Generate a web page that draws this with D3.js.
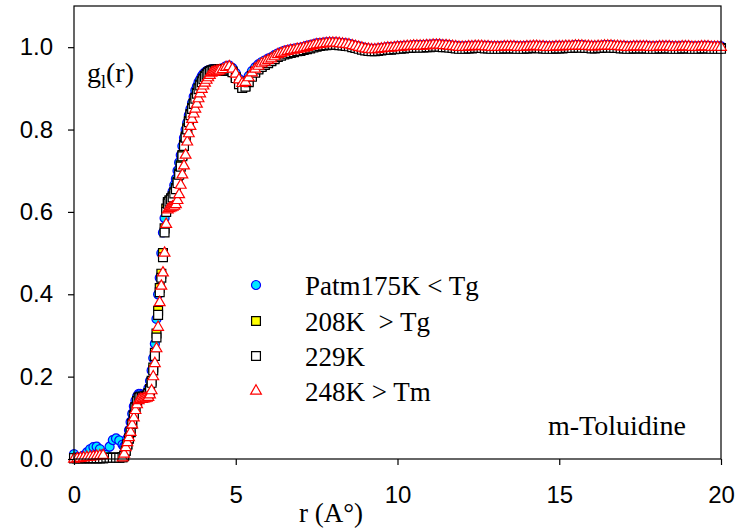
<!DOCTYPE html>
<html>
<head>
<meta charset="utf-8">
<script src="https://cdn.jsdelivr.net/npm/d3@7"></script>
<style>
  body { margin: 0; background: #fff; }
  svg { display: block; }
  .tick text { font-family: "Liberation Sans", Arial, sans-serif; font-size: 24px; fill: #000; }
  .serif { font-family: "Liberation Serif", "Times New Roman", serif; fill: #000; }
</style>
</head>
<body>
<div id="chart"></div>
<script>
// r grid (Angstrom): 0-1.5 step .1, 1.55-4.5 step .05, 4.6-20 step .1
const radius = [
  0, 0.1, 0.2, 0.3, 0.4, 0.5, 0.6, 0.7, 0.8, 0.9, 1.0, 1.1, 1.2, 1.3, 1.4, 1.5,
  1.55, 1.6, 1.65, 1.7, 1.75, 1.8, 1.85, 1.9, 1.95, 2.0,
  2.05, 2.1, 2.15, 2.2, 2.25, 2.3, 2.35, 2.4, 2.45, 2.5,
  2.55, 2.6, 2.65, 2.7, 2.75, 2.8, 2.85, 2.9, 2.95, 3.0,
  3.05, 3.1, 3.15, 3.2, 3.25, 3.3, 3.35, 3.4, 3.45, 3.5,
  3.55, 3.6, 3.65, 3.7, 3.75, 3.8, 3.85, 3.9, 3.95, 4.0,
  4.05, 4.1, 4.15, 4.2, 4.25, 4.3, 4.35, 4.4, 4.45, 4.5,
  4.6, 4.7, 4.8, 4.9, 5.0, 5.1, 5.2, 5.3, 5.4, 5.5,
  5.6, 5.7, 5.8, 5.9, 6.0, 6.1, 6.2, 6.3, 6.4, 6.5,
  6.6, 6.7, 6.8, 6.9, 7.0, 7.1, 7.2, 7.3, 7.4, 7.5,
  7.6, 7.7, 7.8, 7.9, 8.0, 8.1, 8.2, 8.3, 8.4, 8.5,
  8.6, 8.7, 8.8, 8.9, 9.0, 9.1, 9.2, 9.3, 9.4, 9.5,
  9.6, 9.7, 9.8, 9.9, 10.0, 10.1, 10.2, 10.3, 10.4, 10.5,
  10.6, 10.7, 10.8, 10.9, 11.0, 11.1, 11.2, 11.3, 11.4, 11.5,
  11.6, 11.7, 11.8, 11.9, 12.0, 12.1, 12.2, 12.3, 12.4, 12.5,
  12.6, 12.7, 12.8, 12.9, 13.0, 13.1, 13.2, 13.3, 13.4, 13.5,
  13.6, 13.7, 13.8, 13.9, 14.0, 14.1, 14.2, 14.3, 14.4, 14.5,
  14.6, 14.7, 14.8, 14.9, 15.0, 15.1, 15.2, 15.3, 15.4, 15.5,
  15.6, 15.7, 15.8, 15.9, 16.0, 16.1, 16.2, 16.3, 16.4, 16.5,
  16.6, 16.7, 16.8, 16.9, 17.0, 17.1, 17.2, 17.3, 17.4, 17.5,
  17.6, 17.7, 17.8, 17.9, 18.0, 18.1, 18.2, 18.3, 18.4, 18.5,
  18.6, 18.7, 18.8, 18.9, 19.0, 19.1, 19.2, 19.3, 19.4, 19.5,
  19.6, 19.7, 19.8, 19.9, 20.0
];

// Patm 175K < Tg
const g175 = [
  0.012, 0.005, 0.003, 0.008, 0.016, 0.024, 0.029, 0.030, 0.024, 0.012, 0.010, 0.030, 0.046, 0.050, 0.045, 0.035,
  0.030, 0.036, 0.050, 0.070, 0.090, 0.110, 0.128, 0.142, 0.152, 0.158,
  0.158, 0.156, 0.154, 0.155, 0.160, 0.172, 0.190, 0.215, 0.245, 0.280,
  0.340, 0.400, 0.440, 0.500, 0.550, 0.585, 0.605, 0.618, 0.628, 0.638,
  0.650, 0.665, 0.680, 0.700, 0.720, 0.738, 0.760, 0.780, 0.800, 0.817,
  0.835, 0.850, 0.865, 0.880, 0.895, 0.905, 0.915, 0.922, 0.930, 0.935,
  0.939, 0.942, 0.944, 0.945, 0.946, 0.946, 0.946, 0.946, 0.946, 0.947,
  0.949, 0.954, 0.955, 0.949, 0.937, 0.923, 0.915, 0.919, 0.930, 0.942,
  0.951, 0.958, 0.964, 0.968, 0.972, 0.976, 0.981, 0.985, 0.988, 0.991,
  0.993, 0.995, 0.996, 0.998, 0.999, 1.001, 1.003, 1.005, 1.007, 1.009,
  1.010, 1.011, 1.012, 1.012, 1.012, 1.012, 1.011, 1.010, 1.009, 1.008,
  1.006, 1.004, 1.002, 1.000, 0.998, 0.997, 0.996, 0.996, 0.997, 0.998,
  0.999, 1.000, 1.000, 1.001, 1.002, 1.002, 1.003, 1.004, 1.004, 1.005,
  1.005, 1.005, 1.005, 1.006, 1.006, 1.007, 1.007, 1.007, 1.006, 1.006,
  1.005, 1.004, 1.003, 1.002, 1.002, 1.002, 1.003, 1.003, 1.004, 1.004,
  1.004, 1.003, 1.003, 1.002, 1.002, 1.002, 1.002, 1.003, 1.003, 1.003,
  1.003, 1.002, 1.002, 1.002, 1.003, 1.003, 1.004, 1.004, 1.003, 1.003,
  1.002, 1.002, 1.002, 1.003, 1.003, 1.003, 1.004, 1.004, 1.004, 1.005,
  1.005, 1.005, 1.004, 1.004, 1.003, 1.003, 1.004, 1.004, 1.005, 1.005,
  1.005, 1.004, 1.004, 1.003, 1.003, 1.002, 1.002, 1.003, 1.003, 1.003,
  1.003, 1.003, 1.002, 1.002, 1.002, 1.003, 1.003, 1.003, 1.003, 1.002,
  1.002, 1.002, 1.003, 1.003, 1.003, 1.002, 1.002, 1.002, 1.003, 1.003,
  1.003, 1.002, 1.002, 1.002, 1.002
];

// 208K > Tg
const g208 = [
  0.002, 0.002, 0.002, 0.002, 0.002, 0.002, 0.002, 0.002, 0.002, 0.002, 0.003, 0.003, 0.003, 0.003, 0.003, 0.004,
  0.008, 0.020, 0.035, 0.050, 0.066, 0.086, 0.106, 0.126, 0.141, 0.149,
  0.151, 0.151, 0.151, 0.152, 0.154, 0.160, 0.170, 0.190, 0.222, 0.258,
  0.305, 0.360, 0.415, 0.450, 0.500, 0.560, 0.608, 0.624, 0.628, 0.633,
  0.638, 0.648, 0.658, 0.673, 0.693, 0.713, 0.738, 0.763, 0.783, 0.803,
  0.821, 0.838, 0.852, 0.864, 0.877, 0.889, 0.900, 0.909, 0.917, 0.924,
  0.930, 0.935, 0.939, 0.942, 0.944, 0.945, 0.946, 0.946, 0.946, 0.947,
  0.944, 0.947, 0.948, 0.941, 0.927, 0.912, 0.903, 0.906, 0.917, 0.930,
  0.940, 0.948, 0.954, 0.959, 0.963, 0.968, 0.973, 0.978, 0.981, 0.984,
  0.986, 0.988, 0.990, 0.992, 0.993, 0.995, 0.997, 0.999, 1.001, 1.003,
  1.005, 1.006, 1.007, 1.008, 1.008, 1.008, 1.007, 1.006, 1.005, 1.004,
  1.002, 1.000, 0.998, 0.996, 0.994, 0.993, 0.992, 0.992, 0.993, 0.994,
  0.995, 0.996, 0.996, 0.997, 0.998, 0.998, 0.999, 1.000, 1.000, 1.001,
  1.001, 1.001, 1.001, 1.002, 1.002, 1.003, 1.003, 1.003, 1.002, 1.002,
  1.001, 1.000, 0.999, 0.998, 0.998, 0.998, 0.999, 0.999, 1.000, 1.000,
  1.000, 0.999, 0.999, 0.998, 0.998, 0.998, 0.998, 0.999, 0.999, 0.999,
  0.999, 0.998, 0.998, 0.998, 0.999, 0.999, 1.000, 1.000, 0.999, 0.999,
  0.998, 0.998, 0.998, 0.999, 0.999, 0.999, 1.000, 1.000, 1.000, 1.001,
  1.001, 1.001, 1.000, 1.000, 0.999, 0.999, 1.000, 1.000, 1.001, 1.001,
  1.001, 1.000, 1.000, 0.999, 0.999, 0.998, 0.998, 0.999, 0.999, 0.999,
  0.999, 0.999, 0.998, 0.998, 0.998, 0.999, 0.999, 0.999, 0.999, 0.998,
  0.998, 0.998, 0.999, 0.999, 0.999, 0.998, 0.998, 0.998, 0.999, 0.999,
  0.999, 0.998, 0.998, 0.998, 0.998
];

// 229K
const g229 = [
  0.002, 0.002, 0.002, 0.002, 0.002, 0.002, 0.002, 0.002, 0.002, 0.002, 0.003, 0.003, 0.003, 0.003, 0.003, 0.004,
  0.008, 0.020, 0.035, 0.050, 0.065, 0.085, 0.105, 0.125, 0.140, 0.148,
  0.150, 0.150, 0.150, 0.151, 0.153, 0.158, 0.166, 0.185, 0.215, 0.250,
  0.295, 0.350, 0.405, 0.440, 0.490, 0.550, 0.600, 0.620, 0.625, 0.630,
  0.635, 0.645, 0.655, 0.670, 0.690, 0.710, 0.735, 0.760, 0.780, 0.800,
  0.818, 0.835, 0.850, 0.862, 0.875, 0.887, 0.898, 0.907, 0.915, 0.922,
  0.928, 0.933, 0.937, 0.940, 0.942, 0.943, 0.944, 0.944, 0.944, 0.945,
  0.942, 0.945, 0.946, 0.939, 0.925, 0.910, 0.901, 0.904, 0.915, 0.928,
  0.938, 0.946, 0.952, 0.957, 0.961, 0.966, 0.971, 0.976, 0.979, 0.982,
  0.984, 0.986, 0.988, 0.990, 0.991, 0.993, 0.995, 0.997, 0.999, 1.001,
  1.003, 1.004, 1.005, 1.006, 1.006, 1.006, 1.005, 1.004, 1.003, 1.002,
  1.000, 0.998, 0.996, 0.994, 0.992, 0.991, 0.990, 0.990, 0.991, 0.992,
  0.993, 0.994, 0.994, 0.995, 0.996, 0.996, 0.997, 0.998, 0.998, 0.999,
  0.999, 0.999, 0.999, 1.000, 1.000, 1.001, 1.001, 1.001, 1.000, 1.000,
  0.999, 0.998, 0.997, 0.996, 0.996, 0.996, 0.997, 0.997, 0.998, 0.998,
  0.998, 0.997, 0.997, 0.996, 0.996, 0.996, 0.996, 0.997, 0.997, 0.997,
  0.997, 0.996, 0.996, 0.996, 0.997, 0.997, 0.998, 0.998, 0.997, 0.997,
  0.996, 0.996, 0.996, 0.997, 0.997, 0.997, 0.998, 0.998, 0.998, 0.999,
  0.999, 0.999, 0.998, 0.998, 0.997, 0.997, 0.998, 0.998, 0.999, 0.999,
  0.999, 0.998, 0.998, 0.997, 0.997, 0.996, 0.996, 0.997, 0.997, 0.997,
  0.997, 0.997, 0.996, 0.996, 0.996, 0.997, 0.997, 0.997, 0.997, 0.996,
  0.996, 0.996, 0.997, 0.997, 0.997, 0.996, 0.996, 0.996, 0.997, 0.997,
  0.997, 0.996, 0.996, 0.996, 0.996
];

// 248K > Tm (no points read between 1.0 and 1.4)
const g248 = [
  0.000, 0.001, 0.002, 0.003, 0.004, 0.005, 0.006, 0.007, 0.008, 0.009, null, null, null, null, null, 0.003,
  0.012, 0.028, 0.040, 0.052, 0.065, 0.083, 0.100, 0.118, 0.132, 0.142,
  0.145, 0.145, 0.146, 0.147, 0.148, 0.150, 0.156, 0.166, 0.200, 0.232,
  0.268, 0.320, 0.380, 0.420, 0.452, 0.500, 0.570, 0.605, 0.608, 0.610,
  0.612, 0.614, 0.618, 0.628, 0.642, 0.665, 0.690, 0.712, 0.738, 0.770,
  0.790, 0.808, 0.825, 0.838, 0.850, 0.862, 0.875, 0.887, 0.898, 0.906,
  0.913, 0.920, 0.926, 0.932, 0.937, 0.939, 0.940, 0.941, 0.942, 0.943,
  0.946, 0.951, 0.953, 0.947, 0.935, 0.921, 0.912, 0.915, 0.926, 0.938,
  0.947, 0.954, 0.960, 0.964, 0.968, 0.972, 0.977, 0.982, 0.985, 0.988,
  0.990, 0.992, 0.993, 0.995, 0.996, 0.998, 1.000, 1.002, 1.004, 1.006,
  1.007, 1.008, 1.009, 1.010, 1.010, 1.010, 1.009, 1.008, 1.007, 1.006,
  1.004, 1.002, 1.000, 0.998, 0.996, 0.995, 0.994, 0.994, 0.995, 0.996,
  0.997, 0.998, 0.998, 0.999, 1.000, 1.000, 1.001, 1.002, 1.002, 1.003,
  1.003, 1.003, 1.003, 1.004, 1.004, 1.005, 1.005, 1.005, 1.004, 1.004,
  1.003, 1.002, 1.001, 1.000, 1.000, 1.000, 1.001, 1.001, 1.002, 1.002,
  1.002, 1.001, 1.001, 1.000, 1.000, 1.000, 1.000, 1.001, 1.001, 1.001,
  1.001, 1.000, 1.000, 1.000, 1.001, 1.001, 1.002, 1.002, 1.001, 1.001,
  1.000, 1.000, 1.000, 1.001, 1.001, 1.001, 1.002, 1.002, 1.002, 1.003,
  1.003, 1.003, 1.002, 1.002, 1.001, 1.001, 1.002, 1.002, 1.003, 1.003,
  1.003, 1.002, 1.002, 1.001, 1.001, 1.000, 1.000, 1.001, 1.001, 1.001,
  1.001, 1.001, 1.000, 1.000, 1.000, 1.001, 1.001, 1.001, 1.001, 1.000,
  1.000, 1.000, 1.001, 1.001, 1.001, 1.000, 1.000, 1.000, 1.001, 1.001,
  1.001, 1.000, 1.000, 1.000, 1.000
];

const seriesNames = ["Patm175K < Tg", "208K  > Tg", "229K", "248K > Tm"];
const xTicks = [0, 5, 10, 15, 20];
const yTicks = [0, 0.2, 0.4, 0.6, 0.8, 1.0];

const width = 749, height = 529;
const plot = { left: 74, right: 721, top: 6, bottom: 459 };

const svg = d3.select("#chart").append("svg")
  .attr("width", width)
  .attr("height", height);

const x = d3.scaleLinear().domain([0, 20]).range([plot.left, plot.right]);
const y = d3.scaleLinear().domain([0, 1.1]).range([plot.bottom, plot.top]);

// marker styles, drawn in this order (red triangles end up on top)
const styles = [
  { values: g175, type: d3.symbolCircle, size: 64, fill: "#00e8ff", stroke: "#0000ff" },
  { values: g208, type: d3.symbolSquare, size: 78, fill: "#ffff00", stroke: "#000000" },
  { values: g229, type: d3.symbolSquare, size: 78, fill: "#ffffff", stroke: "#000000" },
  { values: g248, type: d3.symbolTriangle, size: 50, fill: "#ffffff", stroke: "#ff0000" }
];

styles.forEach((s, i) => {
  const pts = radius.map((r, k) => ({ r: r, g: s.values[k] }))
    .filter(d => d.g !== null && d.g !== undefined);
  svg.append("g")
    .selectAll("path")
    .data(pts)
    .join("path")
    .attr("transform", d => `translate(${x(d.r)},${y(d.g)})`)
    .attr("d", d3.symbol().type(s.type).size(s.size))
    .attr("fill", s.fill)
    .attr("stroke", s.stroke)
    .attr("stroke-width", 1.2);
});

// frame
svg.append("rect")
  .attr("x", plot.left).attr("y", plot.top)
  .attr("width", plot.right - plot.left)
  .attr("height", plot.bottom - plot.top)
  .attr("fill", "none")
  .attr("stroke", "#000")
  .attr("stroke-width", 1.2);

// axes
const xAxis = svg.append("g")
  .attr("transform", `translate(0,${plot.bottom})`)
  .call(d3.axisBottom(x).tickValues(xTicks).tickFormat(d3.format("d"))
    .tickSize(6).tickSizeOuter(0).tickPadding(21));
xAxis.select(".domain").remove();

const yAxis = svg.append("g")
  .attr("transform", `translate(${plot.left},0)`)
  .call(d3.axisLeft(y).tickValues(yTicks).tickFormat(d3.format(".1f"))
    .tickSize(6).tickSizeOuter(0).tickPadding(15));
yAxis.select(".domain").remove();
svg.selectAll(".tick line").attr("stroke", "#000").attr("stroke-width", 1.2);

// axis titles and notes
const gLabel = svg.append("text").attr("class", "serif")
  .attr("x", 87).attr("y", 82).style("font-size", "28px");
gLabel.append("tspan").text("g");
gLabel.append("tspan").attr("dy", 6).style("font-size", "18px").text("l");
gLabel.append("tspan").attr("dy", -6).text("(r)");

svg.append("text").attr("class", "serif")
  .attr("x", 331).attr("y", 522)
  .attr("text-anchor", "middle")
  .style("font-size", "27px")
  .text("r (A\u00b0)");

svg.append("text").attr("class", "serif")
  .attr("x", 617).attr("y", 435)
  .attr("text-anchor", "middle")
  .style("font-size", "28px")
  .text("m-Toluidine");

// legend
const legendRows = [285, 321, 356, 391];
const legend = svg.append("g");
styles.forEach((s, i) => {
  legend.append("path")
    .attr("transform", `translate(256,${legendRows[i]})`)
    .attr("d", d3.symbol().type(s.type).size(s.size))
    .attr("fill", s.fill)
    .attr("stroke", s.stroke)
    .attr("stroke-width", 1.2);
  legend.append("text").attr("class", "serif")
    .attr("x", 305).attr("y", legendRows[i] + 10)
    .style("font-size", "27px")
    .style("white-space", "pre")
    .text(seriesNames[i]);
});
</script>
</body>
</html>
